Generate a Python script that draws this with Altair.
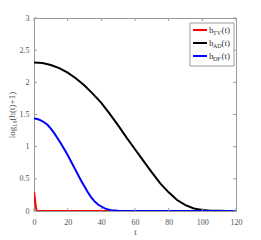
import altair as alt
import pandas as pd

# --- data ---
t_ad = [0, 5, 10, 15, 20, 25, 30, 35, 40, 45, 50, 55, 60, 65, 70, 75, 80, 85, 90, 95, 100, 105, 110, 115, 120]
h_ad = [2.31, 2.30, 2.27, 2.22, 2.15, 2.06, 1.95, 1.82, 1.68, 1.51, 1.33, 1.14, 0.96, 0.78, 0.60, 0.43,
        0.29, 0.17, 0.09, 0.04, 0.015, 0.005, 0.002, 0.001, 0.0]

t_df = [0, 2, 4, 6, 8, 10, 12, 14, 16, 18, 20, 22, 24, 26, 28, 30, 32, 34, 36, 38, 40, 42, 44, 46, 50, 55, 60, 120]
h_df = [1.44, 1.43, 1.41, 1.38, 1.34, 1.28, 1.21, 1.13, 1.05, 0.96, 0.87, 0.77, 0.67, 0.57, 0.47, 0.38,
        0.29, 0.21, 0.15, 0.10, 0.07, 0.04, 0.025, 0.012, 0.005, 0.001, 0.0, 0.0]

t_tv = [0, 0.5, 1, 1.5, 2, 120]
h_tv = [0.30, 0.20, 0.08, 0.01, 0.0, 0.0]

series = ["TV", "AD", "DF"]
colors = ["#ff0000", "#000000", "#0000ff"]

x_ticks = [0, 20, 40, 60, 80, 100, 120]
y_ticks = [0, 0.5, 1, 1.5, 2, 2.5, 3]

rows = []
for name, ts, hs in [("TV", t_tv, h_tv), ("AD", t_ad, h_ad), ("DF", t_df, h_df)]:
    for t, h in zip(ts, hs):
        rows.append({"t": t, "h": h, "series": name})
df = pd.DataFrame(rows)

W, H = 202, 193
FONT = "Liberation Serif"
AXC = "#9a9a9a"
LBL = "#555555"

xs = alt.Scale(domain=[0, 120], nice=False)
ys = alt.Scale(domain=[0, 3], nice=False)

X_AX = alt.Axis(values=x_ticks, format="d", tickSize=0, labelPadding=7, domain=False, grid=False,
                labelOverlap=False, labelFlush=False,
                labelFont=FONT, labelFontSize=8, labelColor=LBL,
                titleFont=FONT, titleFontSize=9, titleFontWeight="normal",
                titleColor=LBL, titlePadding=1)
Y_AX = alt.Axis(values=y_ticks, format="~g", tickSize=0, labelPadding=5, domain=False, grid=False,
                labelOverlap=False, labelFlush=False,
                labelFont=FONT, labelFontSize=8, labelColor=LBL,
                titleFont=FONT, titleFontSize=9, titleFontWeight="normal",
                titleColor=LBL, titlePadding=3)
XT = "t"
YT = "log₁₀(h(t)+1)"

lines = alt.Chart(df).mark_line(strokeWidth=2, clip=True).encode(
    x=alt.X("t:Q", scale=xs, title=XT, axis=X_AX),
    y=alt.Y("h:Q", scale=ys, title=YT, axis=Y_AX),
    color=alt.Color("series:N", scale=alt.Scale(domain=series, range=colors), legend=None),
    detail="series:N",
)

# inward ticks on all four sides
xt = pd.DataFrame({"v": x_ticks})
yt = pd.DataFrame({"v": y_ticks})
tb = alt.Chart(xt).mark_rule(color=AXC, strokeWidth=1).encode(
    x=alt.X("v:Q", scale=xs, title=XT, axis=X_AX), y=alt.value(H), y2=alt.value(H - 3))
tt = alt.Chart(xt).mark_rule(color=AXC, strokeWidth=1).encode(
    x=alt.X("v:Q", scale=xs, title=XT, axis=X_AX), y=alt.value(0), y2=alt.value(3))
tl = alt.Chart(yt).mark_rule(color=AXC, strokeWidth=1).encode(
    y=alt.Y("v:Q", scale=ys, title=YT, axis=Y_AX), x=alt.value(0), x2=alt.value(3))
tr = alt.Chart(yt).mark_rule(color=AXC, strokeWidth=1).encode(
    y=alt.Y("v:Q", scale=ys, title=YT, axis=Y_AX), x=alt.value(W), x2=alt.value(W - 3))

# manual legend (with subscripts)
leg = pd.DataFrame({"series": series, "ypos": [12, 25, 38]})
box = alt.Chart(pd.DataFrame({"a": [0]})).mark_rect(
    fill="white", stroke=AXC, strokeWidth=1).encode(
    x=alt.value(156), x2=alt.value(200), y=alt.value(5), y2=alt.value(48))
lsw = alt.Chart(leg).mark_rule(strokeWidth=2).encode(
    x=alt.value(159), x2=alt.value(173), y=alt.Y("ypos:Q", scale=None),
    color=alt.Color("series:N", scale=alt.Scale(domain=series, range=colors), legend=None))
lh = alt.Chart(leg).mark_text(font=FONT, fontSize=9, align="left", baseline="middle", color="#333").encode(
    x=alt.value(175), y=alt.Y("ypos:Q", scale=None), text=alt.value("h"))
lsub = alt.Chart(leg).mark_text(font=FONT, fontSize=6, align="left", baseline="middle", color="#333", dy=3).encode(
    x=alt.value(179), y=alt.Y("ypos:Q", scale=None), text="series:N")
lt = alt.Chart(leg).mark_text(font=FONT, fontSize=9, align="left", baseline="middle", color="#333").encode(
    x=alt.value(187.5), y=alt.Y("ypos:Q", scale=None), text=alt.value("(t)"))

chart = alt.layer(lines, tb, tt, tl, tr, box, lsw, lh, lsub, lt).properties(
    width=W, height=H,
    autosize=alt.AutoSizeParams(type="none"),
    padding={"left": 26, "top": 10, "right": 10, "bottom": 26},
    background="white",
).configure_view(stroke=AXC, strokeWidth=1)

chart.save("out.html", embed_options={"renderer": "svg", "actions": False})
